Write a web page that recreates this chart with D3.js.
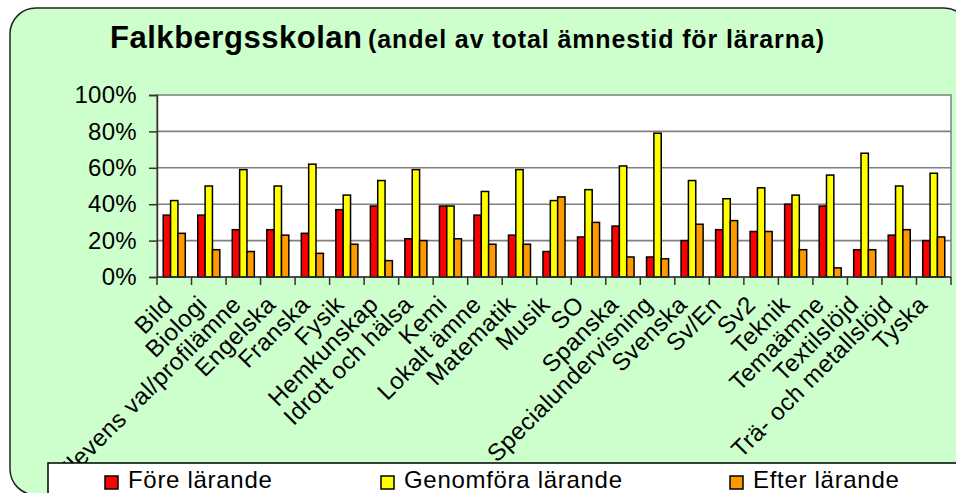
<!DOCTYPE html>
<html>
<head>
<meta charset="utf-8">
<script src="https://cdn.jsdelivr.net/npm/d3@7"></script>
<style>
  body { margin: 0; background: #fff; }
  text { font-family: "Liberation Sans", Arial, sans-serif; fill: #000; }
</style>
</head>
<body>
<div id="chart"></div>
<script>
// subjects on the x axis
var subjects = ["Bild", "Biologi", "Elevens val/profilämne", "Engelska", "Franska", "Fysik",
  "Hemkunskap", "Idrott och hälsa", "Kemi", "Lokalt ämne", "Matematik", "Musik", "SO",
  "Spanska", "Specialundervisning", "Svenska", "Sv/En", "Sv2", "Teknik", "Temaämne",
  "Textilslöjd", "Trä- och metallslöjd", "Tyska"];

var seriesNames = ["Före lärande", "Genomföra lärande", "Efter lärande"];

// share of total subject time, in %
var fore      = [34, 34, 26, 26, 24, 37, 39, 21, 39, 34, 23, 14, 22, 28, 11, 20, 26, 25, 40, 39, 15, 23, 20];
var genomfora = [42, 50, 59, 50, 62, 45, 53, 59, 39, 47, 59, 42, 48, 61, 79, 53, 43, 49, 45, 56, 68, 50, 57];
var efter     = [24, 15, 14, 23, 13, 18,  9, 20, 21, 18, 18, 44, 30, 11, 10, 29, 31, 25, 15,  5, 15, 26, 22];

var yTicks = [0, 20, 40, 60, 80, 100];
var colors = ["#ff0000", "#ffff00", "#ff9900"];

var svgWidth = 956;
var svgHeight = 493;

var plot = { left: 157, right: 951, top: 95, bottom: 277 };

var svg = d3.select("#chart")
  .append("svg")
  .attr("width", svgWidth)
  .attr("height", svgHeight);

// green rounded background
svg.append("rect")
  .attr("x", 10).attr("y", 8)
  .attr("width", 960).attr("height", 487)
  .attr("rx", 26).attr("ry", 26)
  .attr("fill", "#ccffcc")
  .attr("stroke", "#222")
  .attr("stroke-width", 1.5);

// title
var title = svg.append("text")
  .attr("x", 110)
  .attr("y", 48)
  .attr("font-weight", "bold");
title.append("tspan").attr("font-size", "31px").attr("textLength", 252).text("Falkbergsskolan");
title.append("tspan").attr("x", 368).attr("font-size", "25px").attr("textLength", 456)
  .text("(andel av total ämnestid för lärarna)");

// scales
var x0 = d3.scaleBand()
  .domain(subjects)
  .range([plot.left, plot.right]);

var x1 = d3.scaleBand()
  .domain(seriesNames)
  .range([0, x0.bandwidth()])
  .paddingOuter(0.85);

// label anchors run a little tighter than the bars
var xLabel = d3.scalePoint()
  .domain(subjects)
  .range([174, 174 + 34.3 * (subjects.length - 1)]);

var y = d3.scaleLinear()
  .domain([0, 100])
  .range([plot.bottom, plot.top]);

// plot area
svg.append("rect")
  .attr("x", plot.left).attr("y", plot.top)
  .attr("width", plot.right - plot.left)
  .attr("height", plot.bottom - plot.top)
  .attr("fill", "#fff")
  .attr("stroke", "#808080")
  .attr("stroke-width", 1.5);

// gridlines
svg.append("g")
  .selectAll("line")
  .data(yTicks.filter(d => d > 0 && d < 100))
  .enter()
  .append("line")
  .attr("x1", plot.left).attr("x2", plot.right)
  .attr("y1", d => y(d)).attr("y2", d => y(d))
  .attr("stroke", "#808080")
  .attr("stroke-width", 1.6);

// bars
var data = subjects.map(function(s, i) {
  return { subject: s, values: [fore[i], genomfora[i], efter[i]] };
});

var groups = svg.append("g")
  .selectAll("g")
  .data(data)
  .enter()
  .append("g")
  .attr("transform", d => `translate(${x0(d.subject)},0)`);

groups.selectAll("rect")
  .data(d => d.values.map((v, k) => ({ name: seriesNames[k], value: v, k: k })))
  .enter()
  .append("rect")
  .attr("x", d => x1(d.name))
  .attr("y", d => y(d.value))
  .attr("width", x1.bandwidth())
  .attr("height", d => y(0) - y(d.value))
  .attr("fill", d => colors[d.k])
  .attr("stroke", "#000")
  .attr("stroke-width", 1.5);

// y axis
var leftAxis = d3.axisLeft(y)
  .tickValues(yTicks)
  .tickFormat(d => d + "%")
  .tickSize(8)
  .tickPadding(12);

var yAxis = svg.append("g")
  .attr("transform", `translate(${plot.left},0)`)
  .call(leftAxis);
yAxis.select(".domain").attr("stroke", "#333").attr("stroke-width", 1.5);
yAxis.selectAll(".tick line").attr("stroke", "#333").attr("stroke-width", 1.5);
yAxis.selectAll("text")
  .attr("font-size", "24px")
  .attr("letter-spacing", "0.3px")
  .attr("font-family", "Liberation Sans, Arial, sans-serif")
  .attr("fill", "#000");

// x axis: ticks at category boundaries
var xAxisG = svg.append("g");
xAxisG.append("line")
  .attr("x1", plot.left).attr("x2", plot.right)
  .attr("y1", plot.bottom).attr("y2", plot.bottom)
  .attr("stroke", "#333").attr("stroke-width", 1.5);
xAxisG.selectAll(".tk")
  .data(subjects.concat(["end"]))
  .enter()
  .append("line")
  .attr("x1", (d, i) => plot.left + i * x0.step())
  .attr("x2", (d, i) => plot.left + i * x0.step())
  .attr("y1", plot.bottom).attr("y2", plot.bottom + 8)
  .attr("stroke", "#333").attr("stroke-width", 1.5);

// rotated subject labels
xAxisG.selectAll(".lbl")
  .data(subjects)
  .enter()
  .append("text")
  .attr("transform", d => `translate(${xLabel(d)},${plot.bottom + 29}) rotate(-45)`)
  .attr("text-anchor", "end")
  .attr("font-size", "24px")
  .attr("letter-spacing", "0.4px")
  .text(d => d);

// legend
var legend = svg.append("g");
legend.append("rect")
  .attr("x", 48).attr("y", 463)
  .attr("width", 920).attr("height", 40)
  .attr("fill", "#fff")
  .attr("stroke", "#000")
  .attr("stroke-width", 1.5);

var legendX = [105, 381, 730];
var legendItems = legend.selectAll(".item")
  .data(seriesNames)
  .enter()
  .append("g")
  .attr("transform", (d, i) => `translate(${legendX[i]},0)`);

legendItems.append("rect")
  .attr("x", 0).attr("y", 476)
  .attr("width", 13).attr("height", 13)
  .attr("fill", (d, i) => colors[i])
  .attr("stroke", "#000")
  .attr("stroke-width", 1.5);

legendItems.append("text")
  .attr("x", 23)
  .attr("y", 488)
  .attr("font-size", "24px")
  .attr("letter-spacing", "0.7px")
  .text(d => d);
</script>
</body>
</html>
